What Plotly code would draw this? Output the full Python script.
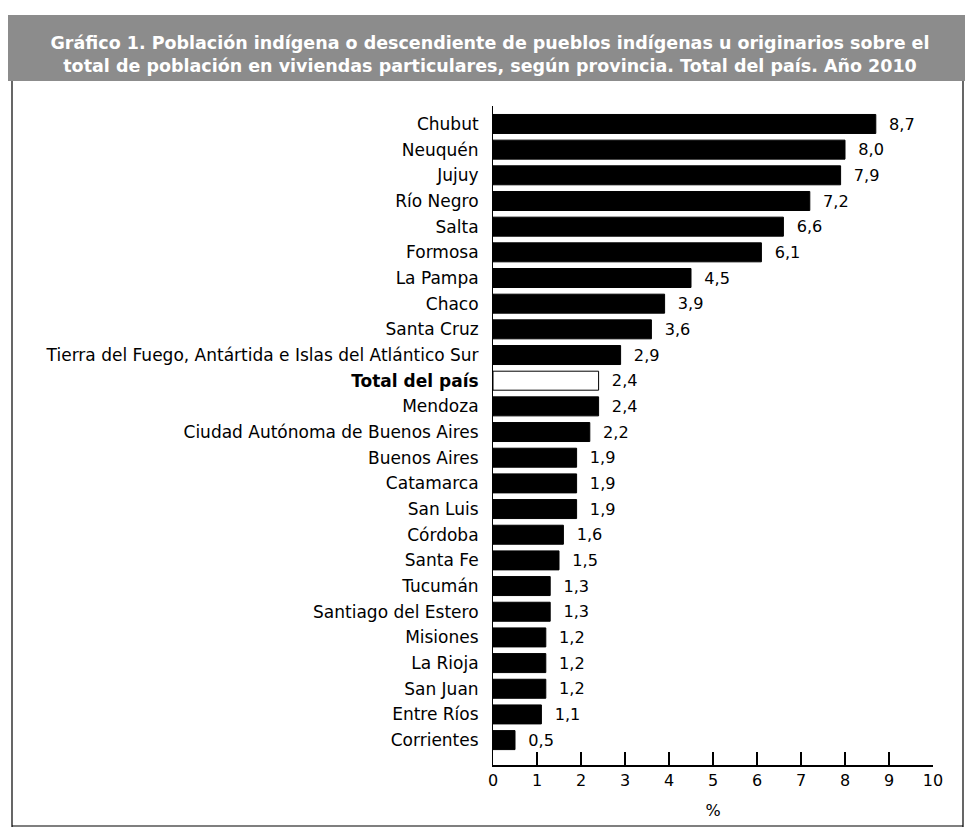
import plotly.graph_objects as go

provincias = ["Chubut", "Neuquén", "Jujuy", "Río Negro", "Salta", "Formosa", "La Pampa", "Chaco",
              "Santa Cruz", "Tierra del Fuego, Antártida e Islas del Atlántico Sur", "<b>Total del país</b>",
              "Mendoza", "Ciudad Autónoma de Buenos Aires", "Buenos Aires", "Catamarca", "San Luis",
              "Córdoba", "Santa Fe", "Tucumán", "Santiago del Estero", "Misiones", "La Rioja",
              "San Juan", "Entre Ríos", "Corrientes"]
valores = [8.7, 8.0, 7.9, 7.2, 6.6, 6.1, 4.5, 3.9, 3.6, 2.9, 2.4, 2.4, 2.2, 1.9, 1.9, 1.9,
           1.6, 1.5, 1.3, 1.3, 1.2, 1.2, 1.2, 1.1, 0.5]
ticks_x = [0, 1, 2, 3, 4, 5, 6, 7, 8, 9, 10]

fill = ["white" if "Total" in p else "black" for p in provincias]

FONT = "DejaVu Sans, Verdana, sans-serif"
OFF = 8  # page body margin
W, H = 957, 820
L, R, T, B = 493 - OFF, 933 - OFF, 106 - OFF, 765 - OFF

def px(x):
    return (x - OFF - L) / (R - L)

def py(y):
    return (B - (y - OFF)) / (B - T)

fig = go.Figure()
fig.add_trace(go.Bar(
    y=provincias, x=valores, orientation="h",
    marker=dict(color=fill, line=dict(color="black", width=1)),
    width=0.74,
    text=valores, texttemplate="  %{x:.1f}", textposition="outside",
    textfont=dict(family=FONT, size=17, color="black"),
    cliponaxis=False,
))

fig.update_layout(
    width=W, height=H,
    margin=dict(l=L, r=W - R, t=T, b=H - B),
    paper_bgcolor="white", plot_bgcolor="white",
    separators=",.",
    showlegend=False,
    font=dict(family=FONT, size=17, color="black"),
    title=dict(
        text="<b>Gráfico 1. Población indígena o descendiente de pueblos indígenas u originarios sobre el<br>total de población en viviendas particulares, según provincia. Total del país. Año 2010</b>",
        x=(490 - OFF) / W, xref="container", xanchor="center",
        y=1 - (49 - OFF) / H, yref="container", yanchor="middle",
        font=dict(size=17.5, color="white", family=FONT),
    ),
    xaxis=dict(
        range=[0, 10], tickvals=ticks_x, ticks="inside", ticklen=13, tickwidth=1.5,
        tickcolor="black", showline=True, linecolor="black", linewidth=1.5,
        showgrid=False, zeroline=False,
        tickfont=dict(size=16),
        title=dict(text="%", font=dict(size=16), standoff=16),
    ),
    yaxis=dict(
        autorange=False, range=[24.97, -0.7], showgrid=False, zeroline=False,
        showline=True, linecolor="black", linewidth=1, ticks="", ticklabelstandoff=10,
        tickfont=dict(size=17),
    ),
)

fig.add_shape(type="rect", xref="paper", yref="paper",
              x0=px(OFF), x1=px(OFF + W), y0=py(81), y1=py(15),
              fillcolor="#8c8c8c", line=dict(width=0), layer="below")
fig.add_shape(type="line", xref="paper", yref="paper",
              x0=px(12), x1=px(12), y0=py(81), y1=py(827), line=dict(color="black", width=1.2))
fig.add_shape(type="line", xref="paper", yref="paper",
              x0=px(963), x1=px(963), y0=py(81), y1=py(827), line=dict(color="black", width=1.2))
fig.add_shape(type="line", xref="paper", yref="paper",
              x0=px(12), x1=px(963), y0=py(826), y1=py(826), line=dict(color="black", width=1.2))

fig.write_html("out.html")
